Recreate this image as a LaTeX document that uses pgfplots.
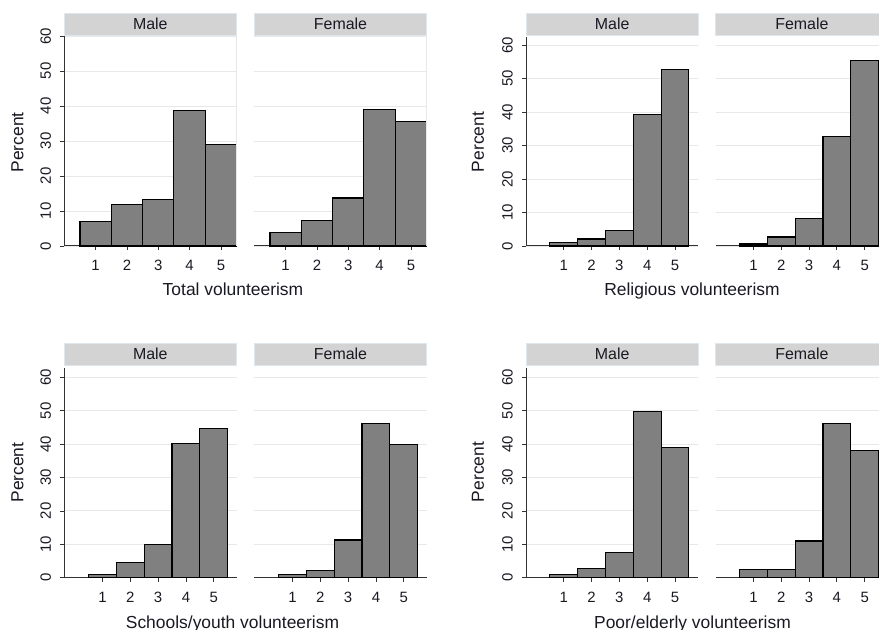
\documentclass[border=0pt]{standalone}
\usepackage{fontspec}
\setmainfont{Liberation Sans}
\usepackage{pgfplots}
\pgfplotsset{compat=1.18}
\definecolor{bargray}{RGB}{128,128,128}
\definecolor{gridgray}{RGB}{232,232,232}
\definecolor{axisgray}{RGB}{50,50,50}
\definecolor{stripfill}{RGB}{211,211,211}
\definecolor{stripborder}{RGB}{222,230,238}
\definecolor{textcol}{RGB}{25,25,35}
\newcommand{\tickfont}{\fontsize{15}{15}\selectfont}
\newcommand{\labfont}{\fontsize{17.5}{18}\selectfont}
\newcommand{\stripfont}{\fontsize{16}{16}\selectfont}
\pgfplotsset{
 panel/.style={anchor=south west, scale only axis, width=172.3bp, ymin=0, clip=false,
  axis lines*=left, axis line style={draw=axisgray, line width=1pt},
  tick align=outside, major tick length=4bp, tick style={draw=axisgray, line width=0.8pt},
  xtick={1,2,3,4,5}, ytick={0,10,20,30,40,50,60},
  ymajorgrids, grid style={draw=gridgray, line width=0.9pt},
  /pgf/number format/assume math mode=true,
  ticklabel style={font=\tickfont, text=textcol},
  xticklabel style={inner sep=0pt, anchor=north, yshift=-10bp},
  yticklabel style={rotate=90, anchor=south, inner sep=0pt, yshift=9bp},
 },
 female/.style={y axis line style={draw=none}, ytick style={draw=none}, yticklabels={}},
 bars/.style={ybar, bar width=1, bar shift=0pt, fill=bargray, draw=black, line width=1.1pt},
}
\begin{document}
\begin{tikzpicture}
\useasboundingbox (0,0) rectangle (879bp,630bp);
\clip (0,0) rectangle (879bp,630bp);
% ---------- Panel 1: Total volunteerism
\begin{axis}[panel, at={(64.3bp,384bp)}, height=210bp, xmin=0, xmax=5.5, ymax=60]
\addplot[bars] coordinates {(1,6.9) (2,11.8) (3,13.4) (4,38.8) (5,29.1)};
\draw[gridgray, line width=0.9pt] (rel axis cs:1,0) -- (rel axis cs:1,1);
\end{axis}
\begin{axis}[panel, female, at={(254.3bp,384bp)}, height=210bp, xmin=0, xmax=5.5, ymax=60]
\addplot[bars] coordinates {(1,3.9) (2,7.2) (3,13.7) (4,39.0) (5,35.6)};
\draw[gridgray, line width=0.9pt] (rel axis cs:1,0) -- (rel axis cs:1,1);
\end{axis}
% ---------- Panel 2: Religious volunteerism
\begin{axis}[panel, at={(526bp,384bp)}, height=209.3bp, xmin=-0.36, xmax=5.84, ymax=62.5]
\addplot[bars] coordinates {(1,1.1) (2,2.1) (3,4.5) (4,39.4) (5,52.7)};
\end{axis}
\begin{axis}[panel, female, at={(715.7bp,384bp)}, height=209.3bp, xmin=-0.36, xmax=5.84, ymax=62.5]
\addplot[bars] coordinates {(1,0.6) (2,2.7) (3,8.2) (4,32.8) (5,55.4)};
\end{axis}
% ---------- Panel 3: Schools/youth volunteerism
\begin{axis}[panel, at={(64.3bp,52.3bp)}, height=209.4bp, xmin=-0.37, xmax=5.82, ymax=62.7]
\addplot[bars] coordinates {(1,1.0) (2,4.5) (3,10.0) (4,40.1) (5,44.6)};
\end{axis}
\begin{axis}[panel, female, at={(254.3bp,52.3bp)}, height=209.4bp, xmin=-0.37, xmax=5.82, ymax=62.7]
\addplot[bars] coordinates {(1,1.0) (2,2.1) (3,11.3) (4,46.3) (5,39.8)};
\end{axis}
% ---------- Panel 4: Poor/elderly volunteerism
\begin{axis}[panel, at={(526bp,52.3bp)}, height=209.4bp, xmin=-0.36, xmax=5.84, ymax=62.7]
\addplot[bars] coordinates {(1,1.0) (2,2.7) (3,7.6) (4,49.8) (5,39.1)};
\end{axis}
\begin{axis}[panel, female, at={(715.7bp,52.3bp)}, height=209.4bp, xmin=-0.36, xmax=5.84, ymax=62.7]
\addplot[bars] coordinates {(1,2.4) (2,2.4) (3,11.0) (4,46.3) (5,38.1)};
\end{axis}
% ---------- strips
\foreach \xa/\xb/\ya/\yb/\t in {64.3/236.3/595/616.7/Male, 254.3/426.7/595/616.7/Female, 526/698.3/595/616.7/Male, 715.7/888/595/616.7/Female, 64.3/236.3/265/286.7/Male, 254.3/426.7/265/286.7/Female, 526/698.3/265/286.7/Male, 715.7/888/265/286.7/Female}{
  \fill[stripfill, draw=stripborder, line width=0.8pt] (\xa bp,\ya bp) rectangle (\xb bp,\yb bp);
  \node[font=\stripfont, text=textcol, inner sep=0pt] at ({(\xa+\xb)/2*1bp},{(\ya+\yb)/2*1bp}) {\t};
}
% ---------- axis titles
\node[font=\labfont, text=textcol, anchor=base, inner sep=0pt] at (233bp,334bp) {Total volunteerism};
\node[font=\labfont, text=textcol, anchor=base, inner sep=0pt] at (692bp,334bp) {Religious volunteerism};
\node[font=\labfont, text=textcol, anchor=base, inner sep=0pt] at (232.5bp,2bp) {Schools/youth volunteerism};
\node[font=\labfont, text=textcol, anchor=base, inner sep=0pt] at (692.5bp,2bp) {Poor/elderly volunteerism};
\node[font=\labfont, text=textcol, rotate=90, inner sep=0pt] at (17.5bp,487.5bp) {Percent};
\node[font=\labfont, text=textcol, rotate=90, inner sep=0pt] at (478bp,488bp) {Percent};
\node[font=\labfont, text=textcol, rotate=90, inner sep=0pt] at (17.5bp,157.5bp) {Percent};
\node[font=\labfont, text=textcol, rotate=90, inner sep=0pt] at (478bp,158bp) {Percent};
\end{tikzpicture}
\end{document}
